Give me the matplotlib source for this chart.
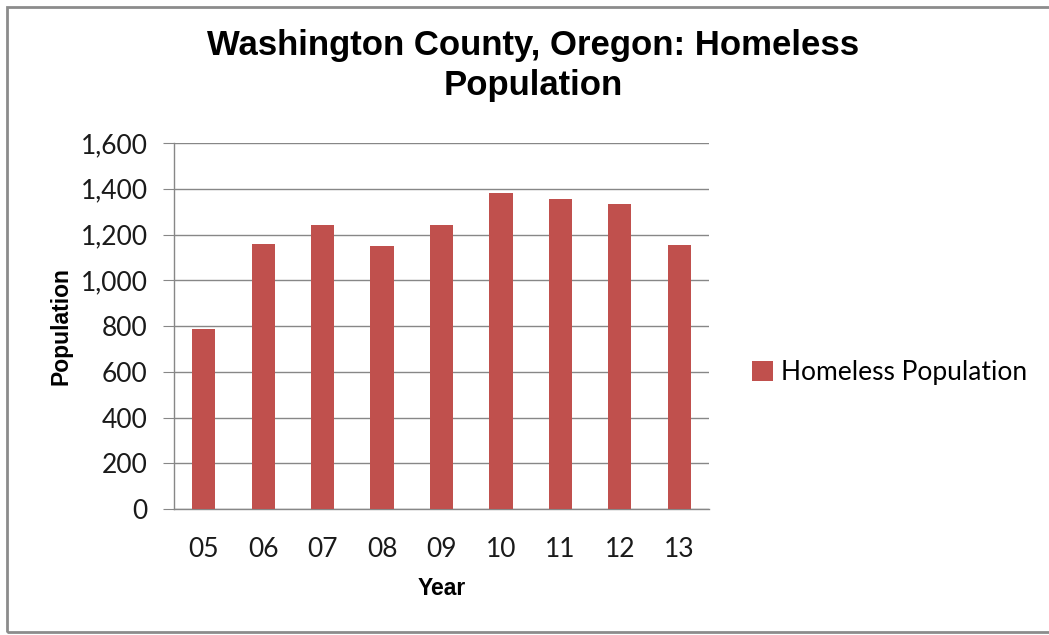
import matplotlib.pyplot as plt
from matplotlib.patches import Rectangle
from matplotlib.ticker import FuncFormatter

# data
years = ['05', '06', '07', '08', '09', '10', '11', '12', '13']
homeless = [785, 1160, 1240, 1148, 1240, 1382, 1357, 1332, 1152]

bar_color = '#C0504D'
grid_color = '#878787'

fig = plt.figure(figsize=(10.49, 6.35), dpi=100)
ax = fig.add_axes([0.1659, 0.1984, 0.5100, 0.5764])

x = range(len(years))
ax.bar(x, homeless, width=0.39, color=bar_color, label='Homeless Population', zorder=3)

ax.set_xlim(-0.5, len(years) - 0.5)
ax.set_ylim(0, 1600)
ax.set_yticks(range(0, 1601, 200))
ax.yaxis.set_major_formatter(FuncFormatter(lambda v, p: f'{int(v):,}'))
ax.set_xticks(list(x))
ax.set_xticklabels(years)

ax.grid(axis='y', color=grid_color, linewidth=1.0, zorder=0)
for s in ['top', 'right']:
    ax.spines[s].set_visible(False)
for s in ['left', 'bottom']:
    ax.spines[s].set_color(grid_color)
    ax.spines[s].set_linewidth(1.0)

ax.tick_params(axis='y', length=8, color=grid_color, labelsize=19, pad=11,
               labelcolor='#1a1a1a')
ax.tick_params(axis='x', length=0, labelsize=19, pad=20, labelcolor='#1a1a1a')
for lab in ax.get_xticklabels() + ax.get_yticklabels():
    lab.set_family('Lato')

ax.set_ylabel('Population', family='Liberation Sans', fontweight='bold', fontsize=16.5)
ax.set_xlabel('Year', family='Liberation Sans', fontweight='bold', fontsize=16.5)
ax.yaxis.set_label_coords(-0.19, 0.5)
ax.xaxis.set_label_coords(0.5, -0.187)

fig.text(0.508, 0.897, 'Washington County, Oregon: Homeless\nPopulation',
         ha='center', va='center', family='Liberation Sans', fontweight='bold',
         fontsize=25, linespacing=1.3)

leg = ax.legend(loc='center left', bbox_to_anchor=(1.08, 0.372), frameon=False,
                prop={'family': 'Lato', 'size': 19}, handlelength=0.8, handleheight=0.8,
                handletextpad=0.3, borderpad=0, borderaxespad=0)

# outer gray frame like the original chart area
fig.patches.append(Rectangle((0.007, 0.004), 1.2, 0.985, transform=fig.transFigure,
                             fill=False, edgecolor='#8c8c8c', linewidth=2.0))

fig.savefig('out.png', dpi=100)
